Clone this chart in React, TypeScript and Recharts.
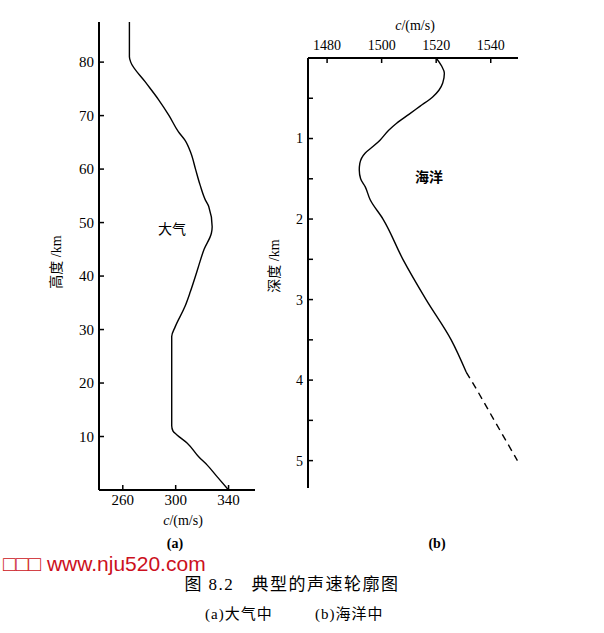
import React from 'react';
import { LineChart, Line, XAxis, YAxis, Label } from 'recharts';

// (a) atmosphere: altitude (km) and sound speed (m/s)
const atmAltitude = [87.5, 81, 80, 76.3, 73, 70, 67, 65.4, 63, 60, 57, 54.2, 53, 49.2, 48, 45, 42, 40, 37, 34.3, 30.5, 28.7, 20, 12, 11, 10.3, 8.8, 6.2, 4.7, 2.5, 0];
const atmSpeed = [265, 265, 266, 277, 287, 295, 302, 307, 311.5, 315, 318.5, 322.5, 325, 327.6, 327, 321.5, 317.5, 315, 311, 307, 299.6, 297, 297, 297, 298, 301, 308.6, 317.4, 323.7, 331.3, 340];
const atmXTicks = [260, 300, 340];
const atmYTicks = [10, 20, 30, 40, 50, 60, 70, 80];

// (b) ocean: depth (km) and sound speed (m/s), measured part (solid)
const oceanDepth = [0, 0.1, 0.19, 0.31, 0.4, 0.48, 0.6, 0.7, 0.81, 0.9, 1.02, 1.1, 1.18, 1.31, 1.39, 1.5, 1.6, 1.76, 2.0, 2.5, 3.0, 3.5, 3.9];
const oceanSpeed = [1520, 1522, 1523, 1522.4, 1521, 1518.8, 1514, 1510, 1505.5, 1502.5, 1499.4, 1496.8, 1494, 1492, 1491.8, 1492.3, 1494, 1495.8, 1500.5, 1507.8, 1516.3, 1525.5, 1531];
// extrapolated part (dashed)
const oceanDepthExt = [3.9, 4.0, 4.5, 5.0];
const oceanSpeedExt = [1531, 1532.8, 1541.3, 1549.8];
const oceanXTicks = [1480, 1500, 1520, 1540];
const oceanYTicks = [0.5, 1, 1.5, 2, 2.5, 3, 3.5, 4, 4.5, 5];

const atmData = atmAltitude.map((h, i) => ({ h, c: atmSpeed[i] }));

const oceanMap = new Map<number, any>();
oceanDepth.forEach((d, i) => {
  oceanMap.set(d, { d, solid: oceanSpeed[i] });
});
oceanDepthExt.forEach((d, i) => {
  const e = oceanMap.get(d) || { d };
  e.dashed = oceanSpeedExt[i];
  oceanMap.set(d, e);
});
const oceanData = Array.from(oceanMap.values()).sort((a, b) => a.d - b.d);

const SERIF = "'Liberation Serif', 'Noto Sans CJK SC', serif";

const axisLine = { stroke: '#000', strokeWidth: 2 };
const tickLine = { stroke: '#000', strokeWidth: 1.5 };

export default function App() {
  return (
    <div style={{ position: 'absolute', left: 0, top: 0, width: 604, height: 633, background: '#fff', overflow: 'hidden', fontFamily: SERIF }}>
      <div style={{ position: 'absolute', left: 0, top: 0 }}>
        <LineChart width={280} height={535} data={atmData} layout="vertical" margin={{ top: 22, right: 25, left: 0, bottom: 15 }}>
          <XAxis
            type="number"
            domain={[242, 360]}
            ticks={atmXTicks}
            allowDataOverflow
            height={30}
            tickSize={-5}
            tickMargin={9}
            axisLine={axisLine}
            tickLine={tickLine}
            tick={{ fill: '#000', fontSize: 15, style: { fontFamily: SERIF } }}
          >
            <Label
              content={() => (
                <text x={183} y={525} textAnchor="middle" style={{ fontFamily: SERIF, fontSize: 14 }} fill="#000">
                  <tspan fontStyle="italic">c</tspan>/(m/s)
                </text>
              )}
            />
          </XAxis>
          <YAxis
            type="number"
            dataKey="h"
            domain={[0, 87.5]}
            reversed
            ticks={atmYTicks}
            allowDataOverflow
            width={99}
            tickSize={-5}
            tickMargin={10}
            axisLine={axisLine}
            tickLine={tickLine}
            tick={{ fill: '#000', fontSize: 15, style: { fontFamily: SERIF } }}
          >
            <Label
              content={() => (
                <text x={56} y={262} transform="rotate(-90 56 262)" textAnchor="middle" dominantBaseline="central" style={{ fontFamily: SERIF, fontSize: 14 }} fill="#000">
                  高度 /km
                </text>
              )}
            />
          </YAxis>
          <Line dataKey="c" type="monotone" stroke="#000" strokeWidth={1.4} dot={false} isAnimationActive={false} />
        </LineChart>
        <div style={{ position: 'absolute', left: 150, top: 220, width: 44, textAlign: 'center', fontSize: 14, lineHeight: '20px', color: '#000' }}>
          大气
        </div>
      </div>

      <div style={{ position: 'absolute', left: 250, top: 0 }}>
        <LineChart width={300} height={500} data={oceanData} layout="vertical" margin={{ top: 28, right: 32, left: 0, bottom: 12 }}>
          <XAxis
            type="number"
            orientation="top"
            domain={[1473, 1550]}
            ticks={oceanXTicks}
            allowDataOverflow
            height={30}
            tickSize={-5}
            tickMargin={13}
            axisLine={axisLine}
            tickLine={tickLine}
            tick={{ fill: '#000', fontSize: 14, style: { fontFamily: SERIF } }}
          >
            <Label
              content={() => (
                <text x={165} y={30} textAnchor="middle" style={{ fontFamily: SERIF, fontSize: 14 }} fill="#000">
                  <tspan fontStyle="italic">c</tspan>/(m/s)
                </text>
              )}
            />
          </XAxis>
          <YAxis
            type="number"
            dataKey="d"
            domain={[0, 5.34]}
            ticks={oceanYTicks}
            allowDataOverflow
            width={58}
            tickSize={-5}
            tickMargin={10}
            tickFormatter={(v: number) => (Number.isInteger(v) ? String(v) : '')}
            axisLine={axisLine}
            tickLine={tickLine}
            tick={{ fill: '#000', fontSize: 14, style: { fontFamily: SERIF } }}
          >
            <Label
              content={() => (
                <text x={24} y={266} transform="rotate(-90 24 266)" textAnchor="middle" dominantBaseline="central" style={{ fontFamily: SERIF, fontSize: 14 }} fill="#000">
                  深度 /km
                </text>
              )}
            />
          </YAxis>
          <Line dataKey="solid" type="monotone" stroke="#000" strokeWidth={1.4} dot={false} isAnimationActive={false} />
          <Line dataKey="dashed" type="monotone" stroke="#000" strokeWidth={1.4} strokeDasharray="7 5" dot={false} isAnimationActive={false} />
        </LineChart>
        <div style={{ position: 'absolute', left: 157, top: 168, width: 44, textAlign: 'center', fontSize: 14, fontWeight: 'bold', lineHeight: '20px', color: '#000' }}>
          海洋
        </div>
      </div>

      <div style={{ position: 'absolute', left: 155, top: 534, width: 40, textAlign: 'center', fontSize: 14, fontWeight: 'bold', lineHeight: '20px' }}>(a)</div>
      <div style={{ position: 'absolute', left: 417, top: 534, width: 40, textAlign: 'center', fontSize: 14, fontWeight: 'bold', lineHeight: '20px' }}>(b)</div>

      <div style={{ position: 'absolute', left: 3, top: 551, whiteSpace: 'pre', fontFamily: "'Liberation Sans', 'DejaVu Sans', sans-serif", fontSize: 21, lineHeight: '26px', color: '#cc1020' }}>
        □□□ www.nju520.com
      </div>

      <div style={{ position: 'absolute', left: 92, top: 574, width: 400, textAlign: 'center', whiteSpace: 'pre', fontSize: 17, letterSpacing: 1.5, lineHeight: '22px', color: '#000' }}>
        图 8.2   典型的声速轮廓图
      </div>
      <div style={{ position: 'absolute', left: 205, top: 604, whiteSpace: 'pre', fontSize: 15, letterSpacing: 1, lineHeight: '20px', color: '#000' }}>
        (a)大气中
      </div>
      <div style={{ position: 'absolute', left: 315, top: 604, whiteSpace: 'pre', fontSize: 15, letterSpacing: 1, lineHeight: '20px', color: '#000' }}>
        (b)海洋中
      </div>
    </div>
  );
}
